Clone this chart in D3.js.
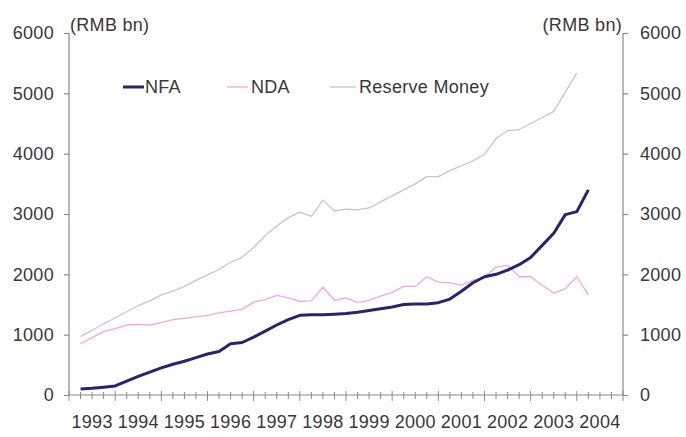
<!DOCTYPE html>
<html>
<head>
<meta charset="utf-8">
<script src="https://cdn.jsdelivr.net/npm/d3@7"></script>
<style>
  html, body { margin: 0; padding: 0; background: #fff; }
  svg text { font-family: "Liberation Sans", Arial, sans-serif; fill: #383838; letter-spacing: 0.3px; }
</style>
</head>
<body>
<svg id="chart" width="686" height="437"></svg>
<script>
// Quarter-end observations, 1993Q1 .. 2004Q1
const quarters = [
  "1993Q1","1993Q2","1993Q3","1993Q4",
  "1994Q1","1994Q2","1994Q3","1994Q4",
  "1995Q1","1995Q2","1995Q3","1995Q4",
  "1996Q1","1996Q2","1996Q3","1996Q4",
  "1997Q1","1997Q2","1997Q3","1997Q4",
  "1998Q1","1998Q2","1998Q3","1998Q4",
  "1999Q1","1999Q2","1999Q3","1999Q4",
  "2000Q1","2000Q2","2000Q3","2000Q4",
  "2001Q1","2001Q2","2001Q3","2001Q4",
  "2002Q1","2002Q2","2002Q3","2002Q4",
  "2003Q1","2003Q2","2003Q3","2003Q4",
  "2004Q1"
];

// Net foreign assets (RMB bn)
const nfa = [
  100, 110, 130, 150,
  230, 310, 380, 450,
  510, 560, 620, 680,
  720, 850, 870, 960,
  1060, 1160, 1250, 1320,
  1330, 1330, 1340, 1350,
  1370, 1400, 1430, 1460,
  1500, 1510, 1510, 1530,
  1590, 1720, 1860, 1960,
  2000, 2070, 2160, 2280,
  2480, 2680, 2990, 3040,
  3400
];

// Net domestic assets (RMB bn)
const nda = [
  850, 950, 1050, 1100,
  1160, 1170, 1160, 1200,
  1250, 1270, 1300, 1320,
  1360, 1390, 1420, 1540,
  1580, 1650, 1610, 1550,
  1560, 1790, 1570, 1610,
  1530, 1570, 1640, 1700,
  1800, 1800, 1960, 1870,
  1860, 1820, 1900, 1950,
  2120, 2150, 1960, 1960,
  1820, 1690, 1760, 1960,
  1660
];

// Reserve money (RMB bn); 2004Q1 not yet reported
const reserveMoney = [
  970, 1070, 1180, 1280,
  1380, 1480, 1560, 1660,
  1720, 1800, 1900, 1990,
  2080, 2200, 2280, 2450,
  2640, 2800, 2940, 3030,
  2960, 3230, 3050, 3080,
  3070, 3100, 3200, 3300,
  3400, 3500, 3620, 3620,
  3720, 3800, 3880, 3990,
  4250, 4380, 4400, 4500,
  4600, 4700, 5020, 5340,
  null
];

const yearLabels = ["1993","1994","1995","1996","1997","1998","1999","2000","2001","2002","2003","2004"];
const yTicks = [0, 1000, 2000, 3000, 4000, 5000, 6000];
const unitLabel = "(RMB bn)";

const seriesList = [
  { name: "NFA", values: nfa, color: "#27246e", width: 3 },
  { name: "NDA", values: nda, color: "#f2a6e6", width: 1.3 },
  { name: "Reserve Money", values: reserveMoney, color: "#c4c7c2", width: 1.3 }
];

const FONT = 18;
const svg = d3.select("#chart");

// fractional year at the end of each quarter
const qTime = q => +q.slice(0, 4) + (+q.slice(5)) / 4;

const x = d3.scaleLinear().domain([1993, 2005]).range([69, 623]);
const y = d3.scaleLinear().domain([0, 6000]).range([395, 33]);

const axisColor = "#8a8a8a";

// left and right value axes
const leftAxis = d3.axisLeft(y).tickValues(yTicks).tickSize(5).tickPadding(10).tickFormat(d3.format("d"));
const rightAxis = d3.axisRight(y).tickValues(yTicks).tickSize(5).tickPadding(12).tickFormat(d3.format("d"));

function styleAxis(g) {
  g.select(".domain").attr("stroke", axisColor).attr("stroke-width", 1.2);
  g.selectAll(".tick line").attr("stroke", axisColor).attr("stroke-width", 1.2);
  g.selectAll(".tick text")
    .attr("font-size", FONT).attr("fill", "#383838")
    .style("font-family", "'Liberation Sans', Arial, sans-serif");
}

svg.append("g").attr("transform", "translate(69,0)").call(leftAxis).call(styleAxis)
  .call(g => g.select(".domain").attr("d", "M0,33V395"));
svg.append("g").attr("transform", "translate(623,0)").call(rightAxis).call(styleAxis)
  .call(g => g.select(".domain").attr("d", "M0,33V395"));

// category axis with quarterly tick marks crossing the baseline
const xAxisG = svg.append("g");
xAxisG.append("line")
  .attr("x1", x(1993)).attr("x2", x(2005))
  .attr("y1", y(0)).attr("y2", y(0))
  .attr("stroke", axisColor).attr("stroke-width", 1.2);

const quarterTicks = d3.range(0, 49).map(i => 1993 + i / 4);
xAxisG.selectAll("line.qtick")
  .data(quarterTicks)
  .join("line")
  .attr("class", "qtick")
  .attr("x1", d => x(d)).attr("x2", d => x(d))
  .attr("y1", d => y(0) - (Number.isInteger(d) ? 4 : 3))
  .attr("y2", d => y(0) + (Number.isInteger(d) ? 6 : 4))
  .attr("stroke", axisColor).attr("stroke-width", 1);

xAxisG.selectAll("text.year")
  .data(yearLabels)
  .join("text")
  .attr("class", "year")
  .attr("x", d => x(+d + 0.5))
  .attr("y", 422)
  .attr("dy", "0.35em")
  .attr("text-anchor", "middle")
  .attr("font-size", FONT)
  .text(d => d);

// unit labels above both axes
svg.append("text").attr("x", 70).attr("y", 25).attr("dy", "0.35em")
  .attr("font-size", FONT).text(unitLabel);
svg.append("text").attr("x", 622).attr("y", 25).attr("dy", "0.35em")
  .attr("text-anchor", "end").attr("font-size", FONT).text(unitLabel);

// series lines (drawn back to front)
const line = d3.line()
  .defined(d => d != null)
  .x((d, i) => x(qTime(quarters[i])))
  .y(d => y(d));

[...seriesList].reverse().forEach(s => {
  svg.append("path")
    .datum(s.values)
    .attr("fill", "none")
    .attr("stroke", s.color)
    .attr("stroke-width", s.width)
    .attr("stroke-linejoin", "round")
    .attr("d", line);
});

// legend
const legendItems = [
  { s: seriesList[0], x0: 123, x1: 144, tx: 145 },
  { s: seriesList[1], x0: 227, x1: 248, tx: 251 },
  { s: seriesList[2], x0: 330, x1: 356, tx: 359 }
];
const legend = svg.append("g");
legendItems.forEach(it => {
  legend.append("line")
    .attr("x1", it.x0).attr("x2", it.x1)
    .attr("y1", 87).attr("y2", 87)
    .attr("stroke", it.s.color)
    .attr("stroke-width", it.s.width);
  legend.append("text")
    .attr("x", it.tx).attr("y", 87).attr("dy", "0.35em")
    .attr("font-size", FONT)
    .text(it.s.name);
});
</script>
</body>
</html>
